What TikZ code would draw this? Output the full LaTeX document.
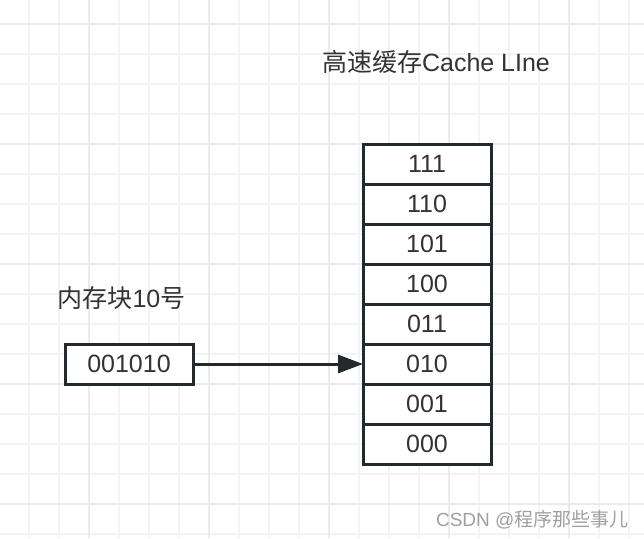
\documentclass[tikz,border=0pt]{standalone}
\usepackage{fontspec}
\setmainfont{Liberation Sans}
\newfontfamily\cjk{Noto Sans CJK SC}
\usetikzlibrary{positioning,arrows.meta}
\definecolor{gridline}{RGB}{243,243,243}
\definecolor{gridmajor}{RGB}{235,235,235}
\definecolor{border}{RGB}{36,41,46}
\definecolor{textclr}{RGB}{51,51,51}
\definecolor{wmark}{RGB}{160,160,160}

\begin{document}
\begin{tikzpicture}[
    x=1pt, y=-1pt,
    every node/.style={font=\fontsize{25}{30}\selectfont, text=textclr},
    cell/.style={
        draw=border,
        line width=3pt,
        fill=white,
        minimum width=128pt,
        minimum height=40pt,
        inner sep=0pt,
        outer sep=0pt
    }
]
\useasboundingbox[fill=white] (0,0) rectangle (644,538);
% grid
\foreach \gx in {29,59,...,629}
    \draw[gridline, line width=2pt] (\gx,0) -- (\gx,538);
\foreach \gy in {24,54,...,534}
    \draw[gridline, line width=2pt] (0,\gy) -- (644,\gy);
\foreach \gx in {89,209,...,569}
    \draw[gridmajor, line width=2pt] (\gx,0) -- (\gx,538);
\foreach \gy in {24,144,...,504}
    \draw[gridmajor, line width=2pt] (0,\gy) -- (644,\gy);

\node[anchor=center] (title) at (436,62) {{\cjk 高速缓存}Cache LIne};
\node[cell] (c111) at (427,164) {111};
\node[cell, below=0pt of c111] (c110) {110};
\node[cell, below=0pt of c110] (c101) {101};
\node[cell, below=0pt of c101] (c100) {100};
\node[cell, below=0pt of c100] (c011) {011};
\node[cell, below=0pt of c011] (c010) {010};
\node[cell, below=0pt of c010] (c001) {001};
\node[cell, below=0pt of c001] (c000) {000};

\node[cell] (blk) at (129,364) {001010};
\node[anchor=west] (blklabel) at (54,298) {{\cjk 内存块}10{\cjk 号}};
\draw[-{Triangle[length=25pt,width=18pt]}, line width=3pt, border] (blk) -- (c010);

\node[anchor=east, text=wmark, font=\fontsize{19}{23}\selectfont] (wm) at (632,520) {CSDN @{\cjk 程序那些事儿}};
\end{tikzpicture}
\end{document}
